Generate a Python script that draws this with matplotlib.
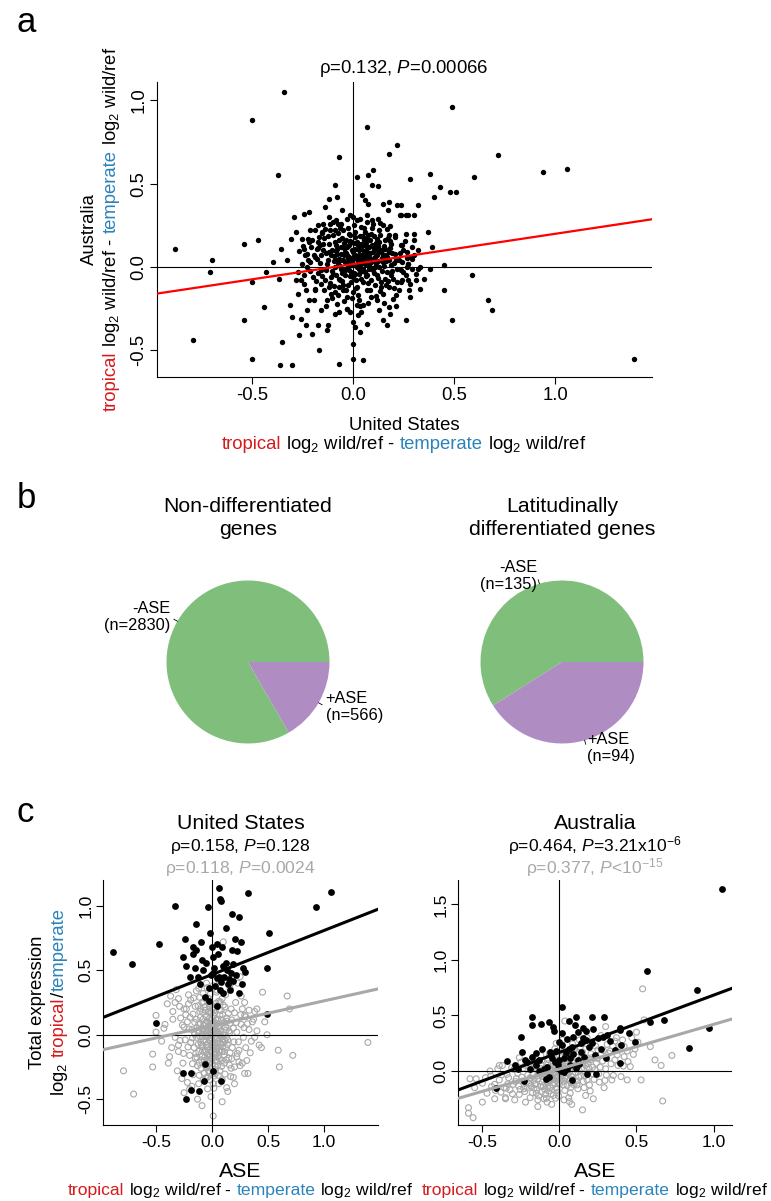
import matplotlib
matplotlib.use("Agg")
import matplotlib.pyplot as plt
import numpy as np

W, H = 771, 1201
plt.rcParams['font.family'] = ['Liberation Sans', 'DejaVu Sans']
plt.rcParams['mathtext.fontset'] = 'custom'
plt.rcParams['mathtext.rm'] = 'Liberation Sans'
plt.rcParams['mathtext.it'] = 'Liberation Sans:italic'
plt.rcParams['mathtext.bf'] = 'Liberation Sans:bold'
plt.rcParams['axes.linewidth'] = 0.8

RED = '#d7191c'
BLUE = '#2b83ba'
GRAY = '#a8a8a8'
GREEN = '#7fbf7b'
PURPLE = '#af8dc3'

# ---------------- data ----------------
# Panel a: United States (x) vs Australia (y) ASE differences
a_outliers = [(-0.34, 1.05), (-0.50, 0.88), (-0.37, 0.55), (-0.88, 0.11), (-0.70, 0.04), (-0.71, -0.03),
              (-0.54, 0.14), (-0.47, 0.16), (-0.43, -0.03), (-0.50, -0.09), (-0.44, -0.24), (-0.54, -0.32),
              (-0.79, -0.44), (-0.35, -0.45), (-0.50, -0.55), (-0.36, -0.59), (-0.30, -0.59), (-0.17, -0.50),
              (-0.07, -0.58), (0.00, -0.55), (0.05, -0.56), (0.00, -0.46), (-0.07, 0.66), (0.07, 0.84),
              (0.22, 0.73), (0.18, 0.68), (0.10, 0.58), (0.02, 0.54), (-0.09, 0.49), (-0.08, 0.42),
              (-0.12, 0.41), (-0.14, 0.36), (-0.22, 0.33), (-0.24, 0.32), (-0.29, 0.30), (0.49, 0.96),
              (0.72, 0.67), (0.94, 0.57), (1.06, 0.59), (0.60, 0.54), (0.38, 0.56), (0.28, 0.53),
              (0.43, 0.48), (0.48, 0.45), (0.51, 0.45), (0.40, 0.42), (0.32, 0.37), (0.24, 0.31),
              (0.27, 0.31), (0.30, 0.31), (0.30, 0.20), (0.30, 0.16), (0.37, 0.21), (0.39, 0.12),
              (0.45, 0.01), (0.38, -0.01), (0.33, 0.00), (0.59, -0.05), (0.45, -0.14), (0.33, -0.13),
              (0.35, -0.07), (0.31, -0.08), (0.27, -0.08), (0.24, -0.09), (0.67, -0.20), (0.69, -0.26),
              (0.49, -0.32), (0.26, -0.32), (1.39, -0.55)]
a_middle = [(0.073, 0.55), (0.095, 0.49), (0.124, 0.485), (0.043, 0.43), (0.061, 0.40), (0.075, 0.38),
            (0.15, 0.38), (0.178, 0.39), (0.218, 0.37), (0.173, 0.34), (0.035, 0.29), (0.068, 0.27),
            (0.095, 0.285), (0.122, 0.29), (0.15, 0.25), (0.176, 0.195), (0.207, 0.195), (-0.015, 0.31),
            (-0.031, 0.29), (-0.056, 0.34), (-0.076, 0.26), (-0.114, 0.26), (-0.089, 0.22), (-0.147, 0.26),
            (-0.155, 0.21), (-0.213, 0.22), (-0.221, 0.17), (-0.254, 0.17), (-0.171, 0.15), (-0.18, 0.11),
            (-0.241, 0.11), (-0.237, 0.07), (-0.188, 0.06), (-0.213, 0.03), (-0.229, 0.0), (-0.241, -0.05),
            (-0.188, -0.14), (-0.216, -0.20), (-0.226, -0.26), (-0.171, -0.35), (-0.233, -0.35), (-0.203, -0.40),
            (-0.266, -0.41), (-0.257, -0.31), (-0.30, -0.30), (-0.313, -0.23), (-0.27, -0.16), (-0.284, -0.08),
            (-0.368, -0.07), (-0.358, 0.11), (-0.395, 0.03), (-0.329, 0.04), (-0.306, 0.17), (-0.28, 0.21),
            (-0.125, -0.35), (-0.13, -0.38), (-0.069, -0.27), (-0.03, -0.25), (0.0, -0.33), (0.011, -0.36),
            (0.027, -0.29), (0.035, -0.39), (0.068, -0.34), (0.018, -0.23), (0.051, -0.23), (-0.015, -0.27),
            (0.15, -0.32), (0.17, -0.35), (0.183, -0.28), (0.24, 0.37), (0.235, 0.31), (0.26, 0.31),
            (0.269, 0.09), (0.245, 0.13), (0.28, 0.06), (0.29, 0.05), (0.27, 0.02), (0.245, 0.03),
            (0.24, -0.02), (0.32, -0.01), (0.29, -0.01), (0.265, 0.0)]
a_core = [(-0.18, 0.05), (-0.16, -0.02), (-0.15, 0.10), (-0.14, -0.08), (-0.13, 0.02), (-0.12, 0.14),
          (-0.12, -0.12), (-0.11, 0.07), (-0.10, -0.04), (-0.10, 0.19), (-0.09, 0.00), (-0.09, -0.15),
          (-0.08, 0.11), (-0.08, 0.04), (-0.07, -0.07), (-0.07, 0.16), (-0.06, -0.01), (-0.06, 0.08),
          (-0.05, -0.11), (-0.05, 0.22), (-0.04, 0.03), (-0.04, -0.05), (-0.03, 0.12), (-0.03, -0.18),
          (-0.02, 0.06), (-0.02, -0.02), (-0.01, 0.15), (-0.01, -0.09), (0.00, 0.02), (0.00, 0.09),
          (0.01, -0.04), (0.01, 0.18), (0.02, 0.05), (0.02, -0.12), (0.03, 0.10), (0.03, -0.01),
          (0.04, 0.24), (0.04, -0.07), (0.05, 0.03), (0.05, 0.13), (0.06, -0.03), (0.06, 0.08),
          (0.07, -0.14), (0.07, 0.17), (0.08, 0.01), (0.08, 0.06), (0.09, -0.08), (0.09, 0.20),
          (0.10, 0.04), (0.10, -0.02), (0.11, 0.12), (0.11, -0.11), (0.12, 0.07), (0.12, -0.05),
          (0.13, 0.15), (0.13, 0.00), (0.14, -0.09), (0.14, 0.09), (0.15, 0.03), (0.15, -0.16),
          (0.16, 0.11), (0.17, -0.03), (0.17, 0.06), (0.18, -0.12), (0.19, 0.14), (0.19, 0.01),
          (0.20, -0.07), (0.21, 0.08), (0.22, -0.01), (0.23, 0.04), (0.23, -0.14), (0.25, 0.10),
          (0.26, -0.05), (0.27, 0.02), (0.28, -0.10), (-0.20, -0.06), (-0.21, 0.12), (-0.19, -0.13),
          (-0.17, 0.18), (-0.16, 0.07), (-0.14, 0.23), (-0.13, -0.20), (-0.11, -0.06), (-0.10, 0.27),
          (-0.08, -0.22), (-0.07, 0.05), (-0.06, 0.26), (-0.05, -0.14), (-0.04, 0.09), (-0.03, -0.25),
          (-0.02, 0.20), (-0.01, 0.01), (0.00, -0.15), (0.01, 0.07), (0.02, 0.28), (0.03, -0.20),
          (0.04, 0.14), (0.05, -0.09), (0.06, 0.21), (0.07, -0.05), (0.08, 0.12), (0.09, -0.18),
          (0.10, 0.26), (0.11, 0.00), (0.12, -0.20), (0.13, 0.22), (0.14, 0.04), (0.16, -0.07),
          (0.17, 0.23), (0.18, 0.09), (0.20, -0.19), (0.21, 0.18), (0.22, -0.09), (0.24, 0.13),
          (0.25, -0.03), (-0.02, 0.03), (0.00, 0.05), (0.02, 0.00), (0.04, 0.04), (-0.01, -0.03),
          (0.03, 0.07), (0.06, 0.02), (-0.03, 0.07), (0.01, 0.11), (0.05, -0.01), (0.07, 0.09),
          (-0.05, 0.04), (0.09, 0.03), (0.00, -0.06), (0.04, 0.11), (-0.02, 0.13), (0.08, -0.01),
          (0.02, 0.15), (-0.04, -0.02), (0.06, 0.13), (0.10, 0.09), (-0.06, 0.12), (0.03, -0.04),
          (0.11, 0.06), (-0.08, 0.08), (0.01, 0.21), (0.13, 0.11), (-0.09, 0.15), (0.05, 0.18),
          (0.15, 0.07), (-0.12, 0.09), (0.12, 0.17), (-0.15, 0.14), (0.14, -0.12), (-0.11, -0.16),
          (0.18, 0.04), (-0.16, -0.10), (0.19, -0.05), (-0.07, -0.12), (0.16, 0.16), (-0.25, 0.02),
          (-0.24, -0.10), (-0.23, 0.08), (-0.27, -0.03), (-0.22, 0.15), (0.30, 0.07), (0.31, -0.04),
          (0.29, 0.12), (0.32, 0.10), (0.28, -0.18), (-0.19, 0.22), (0.26, 0.20), (-0.12, 0.30),
          (0.18, -0.24), (-0.16, -0.26), (0.04, -0.27), (0.00, 0.30), (0.07, 0.31), (-0.09, -0.28),
          (0.13, -0.26)]
a_core_dense = [(-0.015, 0.035), (0.025, 0.055), (0.045, -0.025), (-0.035, 0.085), (0.065, 0.105),
                (-0.055, -0.035), (0.085, 0.045), (-0.075, 0.025), (0.105, -0.035), (-0.095, 0.065),
                (0.015, -0.075), (0.035, 0.125), (-0.025, -0.105), (0.055, 0.165), (-0.045, 0.145),
                (0.075, -0.095), (-0.065, -0.075), (0.095, 0.135), (-0.085, -0.045), (0.115, 0.025),
                (-0.105, 0.105), (0.125, -0.065), (-0.125, 0.045), (0.135, 0.195), (-0.135, -0.015),
                (0.145, -0.025), (-0.145, 0.175), (0.155, 0.125), (-0.155, -0.055), (0.165, 0.035),
                (-0.165, 0.025), (0.175, -0.085), (-0.175, 0.115), (0.185, 0.155), (-0.185, -0.085),
                (0.195, 0.085), (-0.195, 0.075), (0.205, -0.125), (-0.205, 0.165), (0.215, 0.045),
                (0.005, 0.255), (0.025, -0.165), (-0.015, 0.195), (0.045, 0.075), (-0.035, -0.135),
                (0.065, -0.055), (-0.055, 0.175), (0.085, 0.165), (-0.075, -0.165), (0.105, 0.185),
                (-0.095, -0.115), (0.125, 0.095), (-0.115, 0.225), (0.145, 0.055), (-0.135, 0.085),
                (0.165, -0.105), (-0.155, 0.205), (0.185, 0.115), (-0.175, -0.035), (0.205, 0.025),
                (0.015, 0.065), (-0.005, 0.025), (0.035, 0.015), (-0.025, 0.055), (0.055, 0.095),
                (-0.045, 0.115), (0.075, 0.035), (-0.065, 0.045), (0.095, -0.005), (-0.085, 0.135),
                (0.005, -0.035), (0.025, 0.135), (-0.015, -0.055), (0.045, 0.185), (-0.035, 0.165),
                (0.065, 0.145), (-0.055, -0.085), (0.085, -0.135), (-0.075, 0.205), (0.105, 0.115),
                (-0.095, 0.035), (0.125, 0.035), (-0.115, -0.095), (0.135, -0.145), (-0.125, 0.185),
                (0.155, 0.005), (-0.145, -0.135), (0.175, 0.175), (-0.165, 0.135), (0.195, -0.025),
                (0.215, -0.165), (-0.215, -0.025), (0.235, 0.085), (-0.225, 0.045), (0.245, -0.075),
                (-0.235, -0.135), (0.255, 0.155), (-0.245, 0.125), (0.265, 0.055), (-0.255, -0.075),
                (0.275, -0.135), (-0.265, 0.095), (0.005, 0.145), (0.015, -0.125), (-0.005, -0.185),
                (0.035, -0.235), (-0.025, 0.235), (0.055, 0.235), (-0.045, -0.205), (0.075, -0.215),
                (-0.065, 0.235), (0.095, 0.235), (0.115, -0.175), (-0.105, -0.185), (0.135, 0.265),
                (-0.085, 0.285), (0.155, -0.215), (-0.135, -0.235), (0.185, 0.245), (-0.175, 0.255),
                (0.215, -0.235), (-0.195, -0.195), (0.005, 0.065), (0.025, 0.025), (-0.005, 0.105),
                (0.045, 0.045), (-0.025, 0.005), (0.065, 0.065), (-0.045, 0.075), (0.085, 0.085),
                (-0.065, 0.005), (0.105, 0.055), (0.115, 0.145), (-0.105, -0.025), (0.125, 0.125),
                (0.145, 0.105), (-0.085, 0.095), (0.165, 0.075), (0.035, 0.185), (-0.015, 0.155),
                (0.055, 0.055), (0.075, 0.195)]
a_fit = (0.017, 0.182)          # intercept, slope of red line
a_stats = "ρ=0.132, $P$=0.00066"
a_ticks = [-0.5, 0.0, 0.5, 1.0]

# Panel b: pie charts
pie_labels = ["-ASE", "+ASE"]
pie_nondiff = [2830, 566]
pie_latdiff = [135, 94]
pie_titles = ["Non-differentiated\ngenes", "Latitudinally\ndifferentiated genes"]

# Panel c: ASE vs total expression
us_black = [(-0.88, 0.64), (-0.71, 0.55), (-0.47, 0.70), (-0.33, 1.00), (-0.24, 0.74), (-0.14, 0.86),
            (-0.04, 0.99), (0.06, 1.14), (0.07, 1.05), (0.08, 1.04), (0.32, 1.10), (0.93, 0.99),
            (1.06, 1.11), (0.51, 0.79), (0.49, 0.52), (0.49, 0.16), (0.18, 0.94), (0.24, 0.91),
            (0.12, 0.83), (-0.02, 0.79), (0.26, 0.72), (0.18, 0.66), (0.22, 0.65), (-0.50, 0.09),
            (-0.06, -0.23), (-0.26, -0.30), (-0.19, -0.30), (0.01, -0.28), (0.08, -0.36), (-0.07, -0.36),
            (-0.19, -0.43), (-0.12, -0.44), (-0.23, -0.50), (-0.17, 0.68), (-0.14, 0.66), (-0.17, 0.63),
            (-0.23, 0.53), (-0.15, 0.52), (-0.08, 0.50), (-0.13, 0.45), (-0.11, 0.39), (-0.06, 0.29),
            (-0.03, 0.26), (0.00, 0.68), (0.01, 0.60), (0.05, 0.63), (0.04, 0.70), (0.09, 0.68),
            (0.10, 0.53), (0.13, 0.50), (0.17, 0.48), (0.19, 0.42), (0.14, 0.39), (0.10, 0.32),
            (0.07, 0.35), (0.04, 0.44), (0.01, 0.48), (0.04, 0.22), (0.24, 0.32), (0.27, 0.39),
            (0.28, 0.52), (0.29, 0.49), (0.21, 0.46), (0.19, 0.55), (0.12, 0.56), (-0.01, 0.46),
            (-0.03, 0.36), (-0.09, 0.58), (-0.20, 0.45), (-0.10, 0.72), (0.15, 0.43), (0.06, 0.45),
            (0.02, 0.52), (-0.05, 0.56), (0.11, 0.45), (0.03, 0.38), (0.08, 0.41), (0.16, 0.35),
            (-0.26, 0.60), (0.20, 0.74)]
us_gray = [(1.39, -0.06), (0.72, -0.16), (0.59, -0.12), (0.60, -0.25), (0.67, 0.30), (0.69, 0.20),
           (0.45, 0.33), (0.49, 0.00), (-0.79, -0.28), (-0.70, -0.46), (-0.53, -0.15), (-0.53, -0.25),
           (-0.50, 0.15), (-0.50, 0.02), (0.01, -0.63), (0.14, -0.44), (0.32, -0.30), (0.24, -0.21),
           (-0.37, 0.30), (-0.40, 0.24), (-0.33, 0.25), (-0.30, 0.28), (-0.35, 0.12), (-0.38, -0.17),
           (-0.30, -0.13), (-0.22, -0.37), (-0.18, -0.40), (-0.13, -0.50), (0.20, -0.25), (0.30, -0.10),
           (0.35, -0.05), (0.33, 0.19), (0.29, 0.25), (0.36, 0.10), (0.40, 0.03), (0.42, -0.08),
           (0.27, -0.22), (0.29, 0.15), (0.10, 0.72), (0.10, 0.44), (0.17, 0.40), (0.25, 0.45),
           (-0.12, 0.36), (-0.21, 0.31), (-0.25, 0.20), (0.38, 0.18), (-0.43, 0.05),
           (-0.02, -0.05), (0.01, -0.10), (0.03, 0.02), (-0.04, 0.06), (0.00, -0.18), (0.05, -0.03),
           (-0.06, -0.12), (0.02, 0.10), (-0.01, 0.01), (0.04, -0.14), (-0.03, -0.22), (0.06, 0.05),
           (-0.08, 0.00), (0.08, -0.08), (-0.05, 0.14), (0.07, 0.15), (-0.10, -0.06), (0.10, 0.00),
           (-0.07, -0.30), (0.09, -0.20), (0.00, 0.20), (-0.12, 0.08), (0.12, 0.06), (-0.09, -0.17),
           (0.11, -0.13), (0.03, -0.27), (-0.03, 0.24), (0.05, 0.22), (-0.14, -0.02), (0.14, -0.04),
           (-0.11, 0.18), (0.13, 0.13), (-0.02, -0.35), (0.02, -0.32), (-0.16, -0.10), (0.16, 0.09),
           (-0.13, -0.24), (0.15, -0.18), (-0.06, 0.28), (0.06, -0.38), (-0.18, 0.04), (0.18, -0.10),
           (-0.04, -0.42), (0.04, 0.33), (-0.20, -0.16), (0.20, 0.17), (-0.15, 0.22), (0.17, -0.26),
           (-0.08, 0.32), (0.09, 0.28), (-0.22, 0.10), (0.22, 0.02), (-0.17, -0.31), (0.19, -0.33),
           (-0.01, -0.48), (0.01, 0.38), (-0.24, -0.04), (0.24, -0.12), (-0.19, 0.27), (0.21, 0.25),
           (-0.26, -0.22), (0.26, 0.08), (-0.12, -0.38), (0.13, -0.41), (-0.28, 0.13), (0.28, -0.02),
           (-0.30, -0.08), (0.30, 0.14), (-0.23, 0.20), (0.25, -0.24), (-0.01, -0.02), (0.02, -0.06),
           (-0.03, 0.03), (0.01, 0.05), (-0.05, -0.08), (0.04, -0.11), (-0.02, 0.09), (0.03, 0.07),
           (-0.04, -0.15), (0.06, -0.16), (-0.07, 0.03), (0.07, -0.01), (-0.03, -0.19), (0.00, 0.13),
           (-0.06, 0.09), (0.05, 0.12), (-0.09, -0.09), (0.08, 0.03), (-0.01, -0.26), (0.02, 0.17),
           (-0.11, -0.01), (0.10, -0.06), (-0.08, 0.12), (0.11, 0.09), (-0.05, -0.25), (0.05, -0.24),
           (-0.10, 0.20), (0.03, -0.30), (-0.12, -0.13), (0.12, -0.10), (-0.02, 0.18), (0.08, 0.19),
           (-0.07, -0.20), (0.07, -0.28), (-0.14, 0.12), (0.15, 0.03), (-0.04, -0.33), (0.01, -0.38),
           (-0.09, 0.25), (0.10, 0.23), (0.00, -0.08), (0.00, 0.04), (-0.02, -0.12), (0.02, -0.02),
           (-0.01, 0.11), (0.03, -0.20), (-0.05, 0.00), (0.05, 0.01), (-0.03, -0.28), (0.06, 0.26),
           (-0.06, 0.19), (0.09, -0.13), (-0.10, -0.26), (0.11, -0.22), (-0.13, 0.03), (0.13, -0.02),
           (-0.15, -0.18), (0.16, -0.14), (-0.08, -0.35), (0.09, -0.35), (-0.17, 0.16), (0.17, 0.20),
           (-0.19, -0.06), (0.19, 0.05), (-0.21, 0.24), (0.22, -0.17), (-0.11, 0.29), (0.12, 0.31),
           (-0.25, 0.06), (0.27, 0.20), (-0.33, -0.02), (0.33, 0.04), (-0.35, 0.18), (0.34, -0.14),
           (-0.31, -0.28), (0.31, -0.20), (-0.27, -0.34), (0.26, 0.30), (-0.36, -0.10), (0.38, -0.02),
           (-0.29, 0.22), (0.37, 0.12), (-0.42, 0.08), (0.40, 0.20), (-0.39, -0.22), (0.29, -0.30),
           (-0.20, -0.42), (0.20, -0.38), (-0.14, 0.34), (0.16, 0.36), (-0.05, 0.40), (0.06, 0.42),
           (-0.25, -0.45), (0.09, -0.52), (-0.09, -0.55), (-0.32, 0.35), (0.44, -0.10), (0.47, 0.10),
           (-0.45, -0.05), (0.23, 0.40)]
us_gray_dense = [(-0.015, -0.045), (0.015, -0.085), (0.035, -0.035), (-0.035, -0.065), (0.005, 0.025),
                 (-0.055, 0.035), (0.055, -0.095), (-0.025, -0.155), (0.025, 0.045), (-0.075, -0.045),
                 (0.075, 0.025), (-0.045, 0.105), (0.045, 0.085), (-0.005, -0.135), (0.095, -0.035),
                 (-0.095, 0.045), (0.065, -0.125), (-0.065, -0.175), (0.015, 0.145), (-0.015, 0.065),
                 (0.085, 0.115), (-0.085, -0.125), (0.035, -0.175), (-0.035, 0.175), (0.105, -0.155),
                 (-0.105, 0.135), (0.125, 0.035), (-0.125, -0.075), (0.005, -0.225), (-0.005, 0.235),
                 (0.045, -0.205), (-0.045, -0.255), (0.065, 0.195), (-0.065, 0.215), (0.135, -0.075),
                 (-0.135, 0.055), (0.145, 0.165), (-0.145, -0.145), (0.025, -0.245), (-0.025, -0.295),
                 (0.085, -0.245), (-0.085, 0.175), (0.115, 0.215), (-0.115, -0.215), (0.155, -0.235),
                 (-0.155, 0.095), (0.175, 0.115), (-0.175, -0.025), (0.195, -0.055), (-0.195, 0.135),
                 (0.015, 0.005), (-0.005, -0.025), (0.035, 0.115), (-0.035, -0.095), (0.055, 0.065),
                 (-0.055, -0.135), (0.075, -0.065), (-0.075, 0.075), (0.095, 0.155), (-0.095, -0.195),
                 (0.005, 0.095), (-0.015, -0.205), (0.025, -0.145), (-0.025, 0.125), (0.045, 0.025),
                 (-0.045, 0.015), (0.065, -0.185), (-0.065, -0.235), (0.085, -0.015), (-0.085, -0.015),
                 (0.105, 0.095), (-0.105, 0.085), (0.125, -0.195), (-0.125, 0.225), (0.005, -0.305),
                 (-0.005, 0.175), (0.035, 0.245), (-0.035, 0.285), (0.055, -0.315), (-0.055, -0.335),
                 (0.075, 0.255), (-0.075, 0.255), (0.155, 0.015), (-0.155, 0.005), (0.175, -0.185),
                 (-0.175, -0.225), (0.215, 0.095), (-0.215, -0.095), (0.235, -0.055), (-0.235, 0.155),
                 (0.015, -0.415), (-0.015, 0.315), (0.045, 0.345), (-0.045, 0.365), (0.115, -0.305),
                 (-0.115, -0.315), (0.165, -0.325), (-0.165, 0.285), (0.255, 0.155), (-0.255, -0.145),
                 (0.005, -0.065), (0.025, -0.015), (-0.025, -0.035), (0.015, 0.085), (-0.035, 0.035),
                 (0.045, -0.065), (0.005, -0.105), (-0.015, -0.165), (0.035, -0.115), (-0.005, 0.045),
                 (0.065, 0.005), (-0.055, -0.015), (0.025, 0.195), (-0.025, 0.215), (0.095, -0.095),
                 (-0.095, -0.075), (0.115, -0.045), (-0.115, 0.025), (0.135, 0.105), (-0.135, -0.175),
                 (0.285, 0.055), (-0.285, -0.045), (0.315, 0.085), (-0.265, 0.075), (0.225, -0.145),
                 (-0.205, 0.045)]
au_black = [(1.055, 1.64), (0.57, 0.90), (0.89, 0.73), (0.97, 0.39), (0.84, 0.21), (0.68, 0.46),
            (0.59, 0.44), (0.49, 0.26), (0.02, 0.58), (-0.175, 0.49), (-0.175, 0.41), (-0.12, 0.42),
            (-0.07, 0.44), (-0.04, 0.40), (-0.035, 0.36), (-0.25, 0.31), (-0.24, 0.17), (-0.34, 0.09),
            (-0.29, 0.05), (-0.41, -0.15), (-0.23, -0.09), (0.08, -0.08), (0.21, 0.49), (0.29, 0.49),
            (0.06, 0.45), (0.11, 0.49), (0.10, 0.41), (0.15, 0.39), (0.17, 0.36), (0.39, 0.39),
            (0.39, 0.37), (0.45, 0.34), (0.40, 0.23), (0.36, 0.19), (0.39, 0.07), (0.21, 0.25),
            (0.23, 0.14), (0.18, -0.03), (0.24, -0.03), (-0.08, 0.04), (-0.09, -0.07), (-0.07, -0.05),
            (0.00, 0.26), (0.02, 0.23), (0.05, 0.29), (0.06, 0.20), (0.09, 0.31), (0.12, 0.35),
            (0.14, 0.25), (0.09, 0.15), (0.12, 0.10), (0.07, 0.05), (0.05, 0.02), (-0.18, 0.13),
            (-0.21, 0.08), (-0.13, 0.10), (-0.13, 0.00), (-0.05, 0.12), (-0.02, 0.18), (0.03, 0.12),
            (-0.01, 0.05), (0.01, 0.00), (0.11, 0.03), (0.14, 0.17), (0.17, 0.28), (0.19, 0.22),
            (0.25, 0.30), (0.28, 0.31), (0.31, 0.32), (-0.11, 0.20), (-0.15, 0.05), (-0.27, 0.02),
            (-0.19, 0.02), (0.04, 0.16), (0.08, 0.22), (-0.03, 0.08), (-0.06, 0.17), (0.13, 0.06),
            (0.16, 0.13), (0.33, 0.27), (0.27, 0.20), (0.03, -0.01), (-0.10, 0.02), (0.00, 0.10),
            (0.07, 0.12), (-0.15, 0.16), (0.22, 0.38), (0.30, 0.12), (0.02, 0.34), (-0.22, 0.10),
            (0.15, 0.30)]
au_gray = [(0.54, 0.74), (0.55, 0.46), (0.73, 0.14), (0.66, 0.05), (0.67, -0.27), (0.53, -0.08),
           (0.44, -0.08), (0.15, -0.35), (-0.14, -0.32), (-0.50, -0.28), (-0.59, -0.33), (-0.59, -0.38),
           (-0.56, -0.42), (-0.58, -0.07), (-0.54, -0.07), (-0.55, -0.15), (-0.45, 0.0), (-0.39, 0.05),
           (-0.35, -0.25), (0.035, 0.45), (0.50, 0.35), (0.62, 0.10), (0.59, 0.22), (0.47, 0.30),
           (0.42, 0.22), (0.48, 0.15), (0.36, 0.27), (0.30, 0.40),
           (-0.02, -0.03), (0.02, 0.00), (-0.05, -0.08), (0.05, 0.04), (0.00, -0.12), (-0.08, -0.02),
           (0.08, -0.05), (-0.03, 0.05), (0.03, -0.09), (-0.11, -0.10), (0.11, 0.06), (-0.06, -0.15),
           (0.06, 0.10), (-0.13, -0.04), (0.13, 0.00), (-0.09, 0.03), (0.09, -0.12), (-0.16, -0.12),
           (0.16, 0.09), (-0.01, -0.19), (0.01, 0.12), (-0.19, -0.06), (0.19, 0.03), (-0.04, -0.22),
           (0.04, 0.16), (-0.21, -0.15), (0.21, 0.12), (-0.12, 0.06), (0.12, -0.16), (-0.24, -0.09),
           (0.24, 0.07), (-0.07, 0.10), (0.07, -0.20), (-0.27, -0.02), (0.27, 0.15), (-0.15, -0.20),
           (0.15, 0.17), (-0.30, -0.12), (0.30, 0.02), (-0.18, 0.02), (0.18, -0.08), (-0.33, -0.06),
           (0.33, 0.18), (-0.22, 0.05), (0.22, -0.03), (-0.36, -0.15), (0.36, 0.10), (-0.10, -0.25),
           (0.10, 0.20), (-0.39, -0.08), (0.39, 0.22), (-0.26, -0.21), (0.26, -0.10), (-0.42, -0.12),
           (0.42, 0.13), (-0.31, 0.03), (0.31, 0.24), (-0.03, 0.20), (0.03, -0.26), (-0.17, 0.12),
           (0.17, -0.22), (-0.01, -0.06), (0.01, -0.01), (-0.03, -0.11), (0.04, 0.01), (-0.06, -0.04),
           (0.06, -0.02), (-0.04, 0.01), (0.02, 0.06), (-0.08, -0.09), (0.08, 0.02), (-0.02, -0.15),
           (0.05, -0.13), (-0.10, -0.05), (0.10, 0.08), (-0.07, -0.18), (0.07, 0.13), (-0.12, -0.14),
           (0.12, 0.04), (-0.14, -0.07), (0.14, -0.04), (-0.05, 0.07), (0.05, -0.07), (-0.17, -0.03),
           (0.17, 0.05), (-0.09, -0.21), (0.09, 0.16), (-0.20, -0.11), (0.20, 0.10), (-0.23, -0.16),
           (0.23, 0.01), (-0.11, 0.00), (0.11, -0.09), (-0.28, -0.07), (0.28, 0.09), (-0.14, -0.26),
           (0.16, -0.15), (-0.32, -0.17), (0.32, 0.16), (-0.06, 0.14), (0.06, -0.24), (-0.34, -0.03),
           (0.35, -0.04), (-0.25, 0.08), (0.25, 0.19), (-0.38, -0.19), (0.38, 0.05), (-0.19, -0.24),
           (0.20, -0.18), (-0.44, -0.14), (0.44, 0.18), (-0.29, -0.26), (0.29, -0.15), (-0.16, 0.08),
           (0.15, 0.25), (-0.40, 0.02), (0.41, 0.28), (-0.08, -0.28), (0.08, -0.30), (-0.47, -0.20),
           (0.46, 0.04), (-0.37, 0.05), (0.37, 0.30), (-0.12, 0.14), (0.13, 0.28), (-0.48, -0.06),
           (0.49, 0.20), (-0.22, -0.28), (0.22, -0.25), (-0.05, -0.30), (0.02, 0.28), (-0.35, -0.24),
           (0.34, -0.08), (-0.26, 0.12), (0.27, 0.32), (-0.50, -0.11), (0.51, 0.26), (0.40, -0.05),
           (-0.42, -0.25), (0.18, 0.30), (-0.02, 0.25)]
au_gray_dense = [(-0.015, -0.045), (0.015, -0.025), (0.035, 0.025), (-0.035, -0.075), (0.055, -0.015),
                 (-0.055, -0.055), (0.075, 0.045), (-0.075, -0.105), (0.005, -0.085), (-0.005, 0.015),
                 (0.025, -0.125), (-0.025, 0.035), (0.045, 0.065), (-0.045, -0.125), (0.065, -0.085),
                 (-0.065, 0.015), (0.085, 0.075), (-0.085, -0.055), (0.105, -0.015), (-0.105, -0.135),
                 (0.125, 0.055), (-0.125, -0.025), (0.145, 0.125), (-0.145, -0.165), (0.165, -0.045),
                 (-0.165, -0.085), (0.185, 0.065), (-0.185, -0.135), (0.205, 0.155), (-0.205, -0.035),
                 (0.225, -0.075), (-0.225, -0.185), (0.245, 0.115), (-0.245, -0.055), (0.265, 0.035),
                 (-0.265, -0.135), (0.285, 0.185), (-0.285, -0.095), (0.305, -0.035), (-0.305, -0.205),
                 (0.015, 0.085), (-0.015, -0.165), (0.035, -0.175), (-0.035, 0.125), (0.055, 0.135),
                 (-0.055, -0.205), (0.075, -0.145), (-0.075, 0.065), (0.095, 0.185), (-0.095, -0.165),
                 (0.115, -0.125), (-0.115, 0.095), (0.135, 0.215), (-0.135, -0.225), (0.155, -0.095),
                 (-0.155, 0.035), (0.175, 0.245), (-0.175, -0.195), (0.195, -0.125), (-0.195, 0.065),
                 (0.005, -0.015), (-0.005, -0.105), (0.025, 0.045), (-0.025, -0.065), (0.045, -0.045),
                 (-0.045, 0.045), (0.065, 0.015), (-0.065, -0.085), (0.085, -0.025), (-0.085, 0.005),
                 (0.105, 0.035), (-0.105, -0.075), (0.125, -0.055), (-0.125, 0.025), (0.145, 0.025),
                 (-0.145, -0.045), (0.165, 0.105), (-0.165, -0.155), (0.185, -0.015), (-0.185, -0.065),
                 (0.005, 0.055), (-0.005, -0.225), (0.035, -0.065), (-0.035, -0.015), (0.075, -0.105),
                 (-0.075, -0.145), (0.115, 0.125), (-0.115, -0.185), (0.155, 0.075), (-0.155, -0.115),
                 (0.215, 0.035), (-0.215, -0.105), (0.255, -0.025), (-0.255, -0.165), (0.335, 0.065),
                 (-0.335, -0.115), (0.375, 0.145), (-0.375, -0.035), (0.415, 0.045), (-0.415, -0.175),
                 (0.235, 0.225), (-0.235, 0.025), (0.295, -0.085), (-0.295, 0.015), (0.345, 0.225),
                 (-0.345, -0.155), (0.025, 0.175), (-0.025, -0.245), (0.085, 0.245), (-0.085, -0.245),
                 (0.065, -0.275), (-0.065, 0.155), (0.445, 0.085), (-0.445, -0.045)]
us_fit_black = (0.467, 0.342)
us_fit_gray = (0.071, 0.192)
au_fit_black = (0.168, 0.515)
au_fit_gray = (0.018, 0.402)
us_stats = ["ρ=0.158, $P$=0.128", "ρ=0.118, $P$=0.0024"]
au_stats = ["ρ=0.464, $P$=3.21x10$^{-6}$", "ρ=0.377, $P$<10$^{-15}$"]
us_yticks = [-0.5, 0.0, 0.5, 1.0]
au_yticks = [0.0, 0.5, 1.0, 1.5]
c_xticks = [-0.5, 0.0, 0.5, 1.0]

# ---------------- figure ----------------
fig = plt.figure(figsize=(W / 100, H / 100), dpi=100)
renderer = fig.canvas.get_renderer()


def add_ax(l, t, r, b):
    return fig.add_axes([l / W, 1 - b / H, (r - l) / W, (b - t) / H])


def ftext(x, y, s, **kw):
    return fig.text(x / W, 1 - y / H, s, **kw)


def rich(x, y, pieces, fs, rotation=0, gaps=None):
    """pieces: (text, colour); gaps: True (word space) / False (none) between pieces."""
    def width(s):
        t = fig.text(0, 0, s, fontsize=fs)
        w = t.get_window_extent(renderer).width
        t.remove()
        return w
    sp = width("a a") - width("aa")
    if gaps is None:
        gaps = [True] * (len(pieces) - 1)
    ws = [width(s) for s, _ in pieces]
    gap_px = [sp if g else 0.6 for g in gaps] + [0]
    total = sum(ws) + sum(gap_px)
    pos = -total / 2
    for (s, c), w, g in zip(pieces, ws, gap_px):
        if rotation == 0:
            ftext(x + pos, y, s, color=c, fontsize=fs, ha='left', va='baseline')
        else:
            ftext(x, y - pos, s, color=c, fontsize=fs, ha='left', va='baseline',
                  rotation=90, rotation_mode='anchor')
        pos += w + g


WILD = [("tropical", RED), ("log$_2$ wild/ref -", 'black'),
        ("temperate", BLUE), ("log$_2$ wild/ref", 'black')]


def style(ax, xt, yt, fs):
    for s in ['top', 'right']:
        ax.spines[s].set_visible(False)
    ax.set_xticks(xt, [f'{v:.1f}' for v in xt])
    ax.set_yticks(yt, [f'{v:.1f}' for v in yt])
    ax.tick_params(length=5, width=0.8, labelsize=fs, pad=2, direction='out')
    for lab in ax.get_yticklabels():
        lab.set_rotation(90)
        lab.set_va('center')


# ---- panel a ----
ftext(17, 32, "a", fontsize=25, ha='left', va='baseline')
axa = add_ax(157, 82, 652, 377)
pts = np.array(a_outliers + a_middle + a_core + a_core_dense)
axa.scatter(pts[:, 0], pts[:, 1], s=15, c='black', linewidths=0, zorder=3)
axa.axhline(0, color='black', lw=0.8, zorder=2)
axa.axvline(0, color='black', lw=0.8, zorder=2)
axa.axline((0, a_fit[0]), slope=a_fit[1], color='red', lw=1.6, zorder=4)
axa.set_xlim(-0.97, 1.48)
axa.set_ylim(-0.66, 1.11)
style(axa, a_ticks, a_ticks, 13.3)
ftext(404, 73, a_stats, fontsize=13.3, ha='center', va='baseline')
ftext(404, 430, "United States", fontsize=13.3, ha='center', va='baseline')
rich(404, 449, WILD, 13.3)
ftext(94, 229, "Australia", fontsize=13.3, ha='center', va='baseline', rotation=90,
      rotation_mode='anchor')
rich(116, 229, WILD, 13.3, rotation=90)

# ---- panel b ----
ftext(17, 508, "b", fontsize=25, ha='left', va='baseline')


def draw_pie(cx, cy, r, values, title):
    box = r * 1.25
    ax = add_ax(cx - box, cy - box, cx + box, cy + box)
    wedges, _ = ax.pie(values, colors=[GREEN, PURPLE], startangle=0, counterclock=True,
                       radius=1, wedgeprops=dict(linewidth=0))
    ax.set_xlim(-1.25, 1.25)
    ax.set_ylim(-1.25, 1.25)
    ax.axis('off')
    for wdg, lab, n in zip(wedges, pie_labels, values):
        mid = np.deg2rad((wdg.theta1 + wdg.theta2) / 2)
        c, s = np.cos(mid), np.sin(mid)
        ax.plot([c, 1.05 * c], [s, 1.05 * s], color='black', lw=0.6, clip_on=False)
        ha = 'left' if c >= 0 else 'right'
        ax.text(1.1 * c, 1.1 * s, f"{lab}\n(n={n})", ha=ha, va='center', multialignment=ha,
                fontsize=11.8, linespacing=1.15, clip_on=False)
    l1, l2 = title.split("\n")
    ftext(cx, 512, l1, fontsize=15.3, ha='center', va='baseline')
    ftext(cx, 535, l2, fontsize=15.3, ha='center', va='baseline')


draw_pie(248, 662, 81.5, pie_nondiff, pie_titles[0])
draw_pie(562, 662, 81.5, pie_latdiff, pie_titles[1])

# ---- panel c ----
ftext(17, 822, "c", fontsize=25, ha='left', va='baseline')


def cpanel(box, black, gray, fit_b, fit_g, xlim, ylim, yt, title, stats):
    ax = add_ax(*box)
    g = np.array(gray)
    b = np.array(black)
    ax.scatter(g[:, 0], g[:, 1], s=18, facecolors='none', edgecolors=GRAY, linewidths=0.8, zorder=2)
    ax.scatter(b[:, 0], b[:, 1], s=24, c='black', linewidths=0, zorder=3)
    ax.axhline(0, color='black', lw=0.8, zorder=2.5)
    ax.axvline(0, color='black', lw=0.8, zorder=2.5)
    ax.axline((0, fit_g[0]), slope=fit_g[1], color=GRAY, lw=2.2, zorder=4)
    ax.axline((0, fit_b[0]), slope=fit_b[1], color='black', lw=2.2, zorder=5)
    ax.set_xlim(*xlim)
    ax.set_ylim(*ylim)
    style(ax, c_xticks, yt, 12.6)
    cx = (box[0] + box[2]) / 2
    ftext(cx, 829, title, fontsize=15.3, ha='center', va='baseline')
    ftext(cx, 851, stats[0], fontsize=12.6, ha='center', va='baseline')
    ftext(cx, 873, stats[1], fontsize=12.6, ha='center', va='baseline', color=GRAY)
    ftext(cx, 1177, "ASE", fontsize=15.3, ha='center', va='baseline')
    rich(cx, 1195, WILD, 12.6)
    return ax


cpanel((103, 880, 378, 1125), us_black, us_gray + us_gray_dense, us_fit_black, us_fit_gray,
       (-0.973, 1.48), (-0.70, 1.20), us_yticks, "United States", us_stats)
cpanel((458, 880, 732, 1125), au_black, au_gray + au_gray_dense, au_fit_black, au_fit_gray,
       (-0.658, 1.12), (-0.486, 1.72), au_yticks, "Australia", au_stats)
ftext(42, 1002, "Total expression", fontsize=13.3, ha='center', va='baseline', rotation=90,
      rotation_mode='anchor')
rich(64, 1002, [("log$_2$", 'black'), ("tropical", RED), ("/", 'black'), ("temperate", BLUE)], 13.3,
     rotation=90, gaps=[True, False, False])

fig.savefig("out.png", dpi=100)
